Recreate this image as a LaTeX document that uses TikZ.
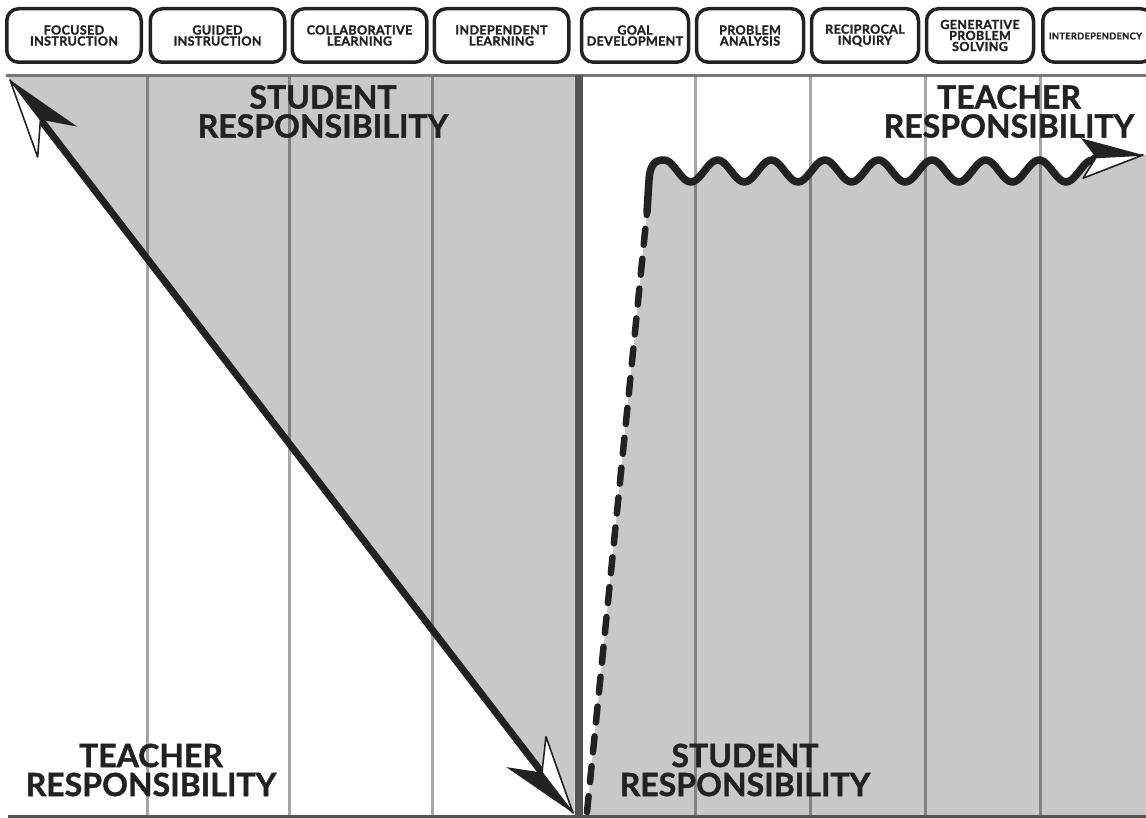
\documentclass[tikz,border=0pt]{standalone}
\usepackage{fontspec}
\setmainfont{Lato}[BoldFeatures={FakeBold=1.2}]
\newfontfamily\stagefont{Lato}[LetterSpace=3, BoldFeatures={FakeBold=1.6}]
\definecolor{ink}{HTML}{222222}
\definecolor{panel}{HTML}{C8C8C8}
\definecolor{darkrule}{HTML}{555555}
\definecolor{edgegray}{HTML}{777777}
\tikzset{
  stage/.style={draw=ink, line width=3.5pt, rounded corners=12pt, minimum height=53.5pt,
    inner sep=0pt, align=center, text=ink, font=\stagefont\bfseries\fontsize{12.5}{11}\selectfont},
  stagewide/.style={stage, minimum width=134.5pt},
  stagenarrow/.style={stage, minimum width=107pt},
  bigtext/.style={align=center, text=ink, inner sep=0pt, font=\bfseries\fontsize{32}{29}\selectfont},
  gridline/.style={draw=black, opacity=.35, line width=3pt},
  shaft/.style={draw=ink, line width=7pt},
  wave/.style={draw=ink, line width=7.5pt, line join=round, line cap=round},
  dashline/.style={draw=ink, line width=6.5pt, line cap=round, dash pattern=on 16pt off 14pt},
  pics/halfhead/.style n args={3}{code={
    \fill[ink] (0,0) -- (-#1,#2) -- (-#3,0) -- cycle;
    \filldraw[fill=white, draw=ink, line width=1.6pt, line join=round] (0,0) -- (-#3,0) -- (-#1,-#2) -- cycle;
  }}
}
\begin{document}
\begin{tikzpicture}[x=1pt, y=-1pt]
  \useasboundingbox (0,0) rectangle (1146,818);
  \coordinate (a1) at (10,80);
  \coordinate (a2) at (573,813);
  \coordinate (d1) at (587,812);
  \coordinate (d2) at (647,212);
  \coordinate (w1) at (1143,155);
  \coordinate (w0) at (1096,157.5);

  \fill[panel] (8,77) -- (574.5,77) -- (574.5,815) -- cycle;
  \fill[panel] (587,815) -- (d1) -- (d2) -- (649,180) .. controls (650,163) and (656,160) .. (664,160)
    -- plot[domain=664:1092, samples=160] (\x,{171-11*cos(6.7164*(\x-664))})
    -- (w0) -- (w1) -- (1146,155) -- (1146,815) -- cycle;

  \begin{scope}[gridline]
    \draw (147,77) -- (147,815);
    \draw (289,77) -- (289,815);
    \draw (432,77) -- (432,815);
    \draw (695,77) -- (695,815);
    \draw (810,77) -- (810,815);
    \draw (925,77) -- (925,815);
    \draw (1040,77) -- (1040,815);
  \end{scope}
  \draw[edgegray, line width=3pt] (6,75.5) -- (1146,75.5);
  \draw[darkrule, line width=3pt] (8,816.5) -- (1146,816.5);
  \draw[darkrule, line width=8pt] (578.5,75) -- (578.5,818);

  \node[bigtext] (sr1) at (323,111.5) {STUDENT\\RESPONSIBILITY};
  \node[bigtext] (tr1) at (1009,111.5) {TEACHER\\RESPONSIBILITY};
  \node[bigtext] (tr2) at (151,770) {TEACHER\\RESPONSIBILITY};
  \node[bigtext] (sr2) at (745,770) {STUDENT\\RESPONSIBILITY};

  \draw[shaft, shorten <=48pt, shorten >=48pt] (a1) -- (a2);
  \pic[rotate=127.5] at (a1) {halfhead={78}{25}{50}};
  \pic[rotate=-52.5] at (a2) {halfhead={77}{25}{51}};
  \draw[dashline] (d1) -- (d2);
  \draw[wave] (d2) -- (649,180) .. controls (650,163) and (656,160) .. (664,160)
    -- plot[domain=664:1092, samples=160] (\x,{171-11*cos(6.7164*(\x-664))}) -- (w0);
  \pic[rotate=3] at (w1) {halfhead={61}{-20}{47}};

  \node[stagewide] (fi) at (74,35.5) {FOCUSED\\INSTRUCTION};
  \node[stagewide] (gi) at (217.5,35.5) {GUIDED\\INSTRUCTION};
  \node[stagewide] (cl) at (359.5,35.5) {COLLABORATIVE\\LEARNING};
  \node[stagewide] (il) at (501.5,35.5) {INDEPENDENT\\LEARNING};
  \node[stagenarrow] (gd) at (635,35.5) {GOAL\\DEVELOPMENT};
  \node[stagenarrow] (pa) at (750,35.5) {PROBLEM\\ANALYSIS};
  \node[stagenarrow] (ri) at (865,35.5) {RECIPROCAL\\INQUIRY};
  \node[stagenarrow] (gp) at (980,35.5) {GENERATIVE\\PROBLEM\\SOLVING};
  \node[stagenarrow, minimum width=110pt] (ip) at (1097.75,35.5) {};
  \node[text=ink, inner sep=0pt, font=\stagefont\bfseries\fontsize{9.3}{11}\selectfont] (iptext) at (1095.5,36) {INTERDEPENDENCY};
\end{tikzpicture}
\end{document}
